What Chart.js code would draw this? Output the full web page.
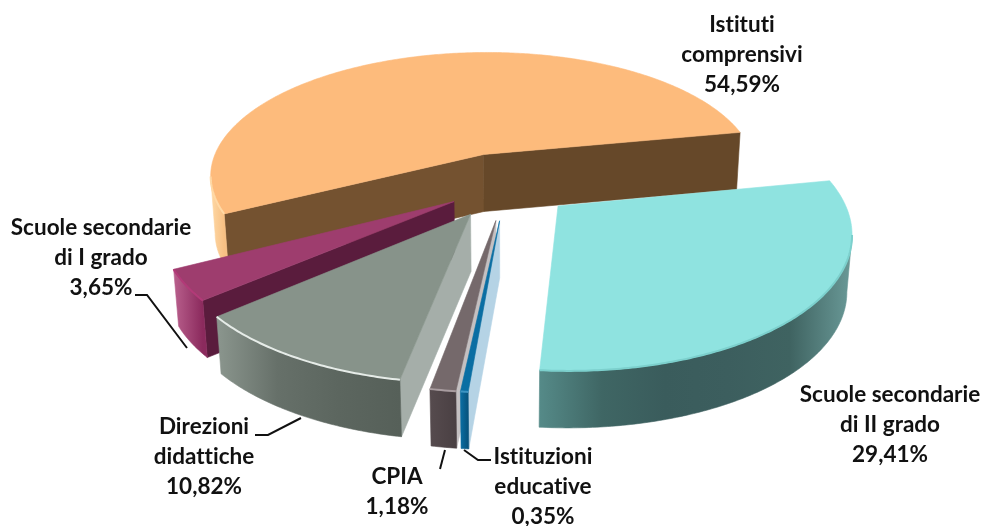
<!DOCTYPE html>
<html><head><meta charset="utf-8">
<style>html,body{margin:0;padding:0;background:#fff}#w{width:983px;height:526px;position:relative}</style>
<script src="https://cdn.jsdelivr.net/npm/chart.js@4"></script>
</head><body><div id="w"><canvas id="c" width="983" height="526"></canvas></div>
<script>
const categories=["Istituti comprensivi","Scuole secondarie di II grado","Istituzioni educative","CPIA","Direzioni didattiche","Scuole secondarie di I grado"];
const values=[54.59,29.41,0.35,1.18,10.82,3.65];
const valueLabels=["54,59%","29,41%","0,35%","1,18%","10,82%","3,65%"];
const labelLines=[["Istituti","comprensivi"],["Scuole secondarie","di II grado"],["Istituzioni","educative"],["CPIA"],["Direzioni","didattiche"],["Scuole secondarie","di I grado"]];
const explode=[55,50,56,56,53,47];
const topColors=["#FDBB7C","#8FE3E0","#0A6EA3","#75696B","#87938A","#9E3D6E"];
const startWall=["#745230",null,"#B5D3E5","#C4C0C1","#A5AEA9","#5A1C3D"];
const endWall=["#664829",null,null,null,null,null];
const outerStops=[["#FFD9A6","#F7C084"],["#558A88","#3F6664","#3A5C5C","#3C5E5E","#3F6361","#6A9A98"],["#0A6EA3","#06527C"],["#564B4E","#4A4043"],["#8B968E","#667069","#5C665F","#566059"],["#B9608D","#8B2A5D"]];
const rimColors=["#FFD9A6","#7CD0CD","#3D94C2","#A89C9F","#E6ECE8","#B23A78"];
const labelCenters=[[742,25],[890,395],[543,457],[397,477],[204,427],[101,228]];
const leaders=[null,null,[[464,450],[478,460],[491,460]],[[445,450],[440,469]],[[255,435],[268,435],[301,418]],[[135,295],[147,295],[187,348]]];
const G={cx:507,cy:185,R:280,k:.46,p:.17,h:57,taper:.985};

function proj(u,v,z){const s=1/(1-G.p*v/G.R);let x=G.cx+u*s;if(z)x=G.cx+(x-G.cx)*G.taper;return [x,G.cy+v*G.k*s+(z||0)];}
const pie3d={id:'pie3d',
 beforeDatasetDraw(chart,args){
  const ctx=chart.ctx,meta=args.meta,els=meta.data.map((el,i)=>{
    const p=el.getProps(['startAngle','endAngle','outerRadius'],true);
    const sc=G.R/p.outerRadius,off=el.options.offset*sc,mid=(p.startAngle+p.endAngle)/2;
    return {i,a0:p.startAngle,a1:p.endAngle,ou:Math.cos(mid)*off,ov:Math.sin(mid)*off,mv:Math.sin(mid)};
  }).sort((a,b)=>a.mv-b.mv);
  const fillPoly=(pts,fill)=>{ctx.beginPath();pts.forEach((q,n)=>n?ctx.lineTo(q[0],q[1]):ctx.moveTo(q[0],q[1]));ctx.closePath();ctx.fillStyle=fill;ctx.fill();ctx.strokeStyle=fill;ctx.lineWidth=.6;ctx.stroke();};
  els.forEach(e=>{
    const rim=a=>[e.ou+Math.cos(a)*G.R,e.ov+Math.sin(a)*G.R];
    const n=Math.max(4,Math.round((e.a1-e.a0)*90));
    const arc=[];for(let j=0;j<=n;j++)arc.push(rim(e.a0+(e.a1-e.a0)*j/n));
    const apex=[e.ou,e.ov];
    const wall=(p1,p2,col)=>fillPoly([proj(p1[0],p1[1]),proj(p2[0],p2[1]),proj(p2[0],p2[1],G.h),proj(p1[0],p1[1],G.h)],col);
    const s0=rim(e.a0),s1=rim(e.a1);
    if(startWall[e.i]&&proj(s0[0],s0[1])[0]<proj(apex[0],apex[1])[0])wall(apex,s0,startWall[e.i]);
    if(endWall[e.i]&&proj(s1[0],s1[1])[0]>proj(apex[0],apex[1])[0])wall(apex,s1,endWall[e.i]);
    const vis=[];
    for(let j=0;j<n;j++){if(proj(arc[j+1][0],arc[j+1][1])[0]<proj(arc[j][0],arc[j][1])[0]){if(!vis.length||vis[vis.length-1]!==arc[j])vis.push(arc[j]);vis.push(arc[j+1]);}}
    if(vis.length>1){
      const t=vis.map(q=>proj(q[0],q[1])),b=vis.map(q=>proj(q[0],q[1],G.h)).reverse();
      const x0=t[t.length-1][0],x1=t[0][0];
      const g=ctx.createLinearGradient(x0,0,Math.max(x1,x0+1),0);
      const st=outerStops[e.i];st.forEach((c,m)=>g.addColorStop(m/(st.length-1),c));
      fillPoly(t.concat(b),g);
    }
    const face=[proj(apex[0],apex[1])].concat(arc.map(q=>proj(q[0],q[1])));
    fillPoly(face,topColors[e.i]);
    if(vis.length>1){
      ctx.beginPath();vis.forEach((q,m)=>{const w=proj(q[0],q[1]);m?ctx.lineTo(w[0],w[1]):ctx.moveTo(w[0],w[1]);});
      ctx.strokeStyle=rimColors[e.i];ctx.lineWidth=2;ctx.lineJoin='round';ctx.stroke();
    }
  });
  return false;
 },
 afterDatasetsDraw(chart){
  const ctx=chart.ctx;
  ctx.strokeStyle='#111';ctx.lineWidth=2;ctx.lineJoin='miter';
  leaders.forEach(l=>{if(!l)return;ctx.beginPath();l.forEach((q,n)=>n?ctx.lineTo(q[0],q[1]):ctx.moveTo(q[0],q[1]));ctx.stroke();});
  ctx.fillStyle='#111';ctx.font='bold 22.5px Lato';ctx.letterSpacing='0.01px';ctx.textAlign='center';ctx.textBaseline='middle';
  categories.forEach((c,i)=>{
    const lines=labelLines[i].concat(valueLabels[i]);
    lines.forEach((t,n)=>ctx.fillText(t,labelCenters[i][0],labelCenters[i][1]+n*30));
  });
 }
};
new Chart(document.getElementById('c'),{
 type:'pie',
 data:{labels:categories,datasets:[{data:values,backgroundColor:topColors,borderWidth:0,offset:explode,hoverOffset:0}]},
 options:{responsive:false,animation:false,rotation:242.4,radius:210,
  layout:{padding:0},
  plugins:{legend:{display:false},tooltip:{enabled:false}},events:[]},
 plugins:[pie3d]
});
</script></body></html>
